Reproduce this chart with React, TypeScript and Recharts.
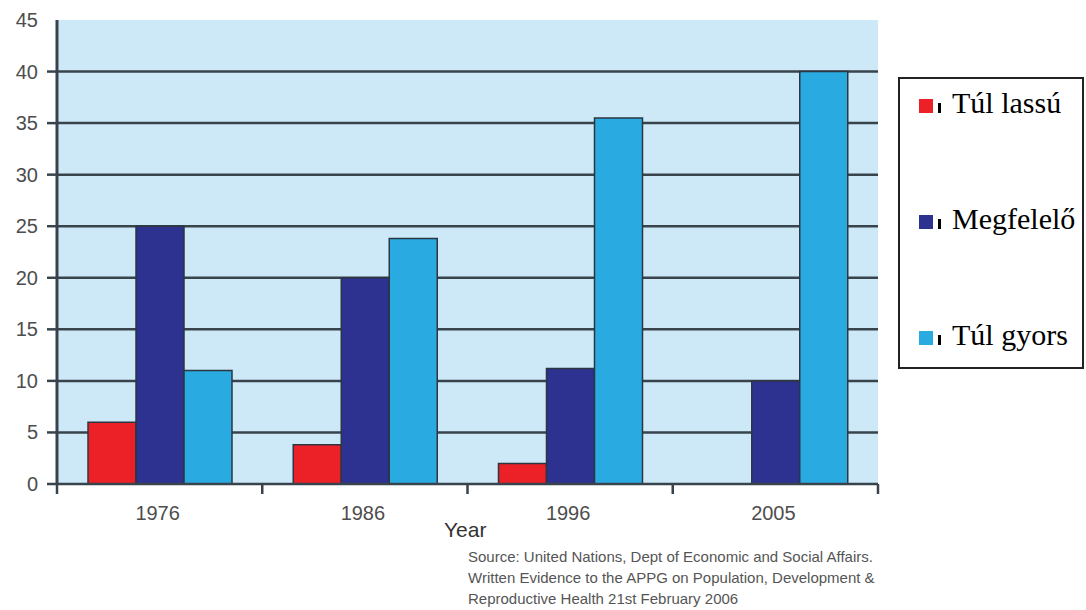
import React from 'react';
import {
  BarChart, Bar, XAxis, YAxis, CartesianGrid,
} from 'recharts';

const years = ['1976', '1986', '1996', '2005'];
const tooSlow = [6, 3.8, 2, 0];
const appropriate = [25, 20, 11.2, 10];
const tooFast = [11, 23.8, 35.5, 40];
const yTicks = [0, 5, 10, 15, 20, 25, 30, 35, 40, 45];
const gridValues = [5, 10, 15, 20, 25, 30, 35, 40];
const sourceLines = [
  'Source: United Nations, Dept of Economic and Social Affairs.',
  'Written Evidence to the APPG on Population, Development &',
  'Reproductive Health 21st February 2006',
];

const series = [
  { key: 'slow', name: 'Túl lassú', color: '#ec2027' },
  { key: 'ok', name: 'Megfelelő', color: '#2d3190' },
  { key: 'fast', name: 'Túl gyors', color: '#29abe2' },
];

const data = years.map((y, i) => ({
  year: y,
  slow: tooSlow[i],
  ok: appropriate[i],
  fast: tooFast[i],
}));

const AXIS = '#39434c';
const LABEL = '#4d4d4d';

const XTick = (props: any) => {
  const { x, y, payload, index } = props;
  const half = payload && payload.offset ? payload.offset : 102.5;
  return (
    <g>
      <line x1={x - half} x2={x - half} y1={y} y2={y + 10} stroke={AXIS} strokeWidth={2.5} />
      {index === years.length - 1 && (
        <line x1={x + half} x2={x + half} y1={y} y2={y + 10} stroke={AXIS} strokeWidth={2.5} />
      )}
      <text x={x - 2} y={y + 36} textAnchor="middle" fontSize={20} fill={LABEL}
        fontFamily="'Liberation Sans', Arial, sans-serif">
        {payload.value}
      </text>
    </g>
  );
};

const YTick = (props: any) => {
  const { x, y, payload } = props;
  return (
    <g>
      {payload.value !== 45 && (
        <line x1={x - 10} x2={x} y1={y} y2={y} stroke={AXIS} strokeWidth={2.5} />
      )}
      <text x={x - 19} y={y + 7} textAnchor="end" fontSize={20} fill={LABEL}
        fontFamily="'Liberation Sans', Arial, sans-serif">
        {payload.value}
      </text>
    </g>
  );
};

const LegendBox = () => (
  <div style={{
    position: 'absolute', left: 898, top: 77,
    width: 186, height: 292, border: '2px solid #222', boxSizing: 'border-box',
    background: '#fff',
    fontFamily: "'Liberation Serif', 'Times New Roman', serif",
  }}>
    {series.map((s, i) => (
      <div key={s.key} style={{
        position: 'absolute', left: 19, top: 4 + i * 116, height: 40,
        display: 'flex', alignItems: 'center', whiteSpace: 'nowrap',
      }}>
        <span style={{ width: 14, height: 14, background: s.color, display: 'inline-block', marginTop: 6 }} />
        <span style={{ width: 3, height: 10, background: '#000', display: 'inline-block', marginLeft: 5, marginTop: 10 }} />
        <span style={{ fontSize: 30, color: '#000', marginLeft: 11 }}>{s.name}</span>
      </div>
    ))}
  </div>
);

export default function App() {
  return (
    <div style={{ position: 'absolute', left: 0, top: 0, width: 1086, height: 610, background: '#fff' }}>
      <BarChart
        width={1086}
        height={610}
        data={data}
        margin={{ top: 20, right: 208, bottom: 96, left: 0 }}
        barCategoryGap={31}
        barGap={0}
      >
        <CartesianGrid
          fill="#cde9f8"
          vertical={false}
          horizontalValues={gridValues}
          stroke={AXIS}
          strokeWidth={2.5}
        />
        <XAxis
          dataKey="year"
          height={30}
          axisLine={{ stroke: AXIS, strokeWidth: 2.5 }}
          tickLine={false}
          tickSize={0}
          tickMargin={0}
          tick={<XTick />}
          interval={0}
        />
        <YAxis
          width={57}
          domain={[0, 45]}
          ticks={yTicks}
          interval={0}
          axisLine={{ stroke: AXIS, strokeWidth: 3 }}
          tickLine={false}
          tickSize={0}
          tickMargin={0}
          tick={<YTick />}
        />
        {series.map((s) => (
          <Bar
            key={s.key}
            dataKey={s.key}
            name={s.name}
            fill={s.color}
            stroke="#2c3640"
            strokeWidth={1.5}
            isAnimationActive={false}
          />
        ))}
      </BarChart>
      <LegendBox />
      <div style={{
        position: 'absolute', left: 444, top: 518, fontSize: 21, color: '#333',
        fontFamily: "'Liberation Sans', Arial, sans-serif",
      }}>Year</div>
      <div style={{
        position: 'absolute', left: 468, top: 546, fontSize: 15, lineHeight: '21px', color: '#555',
        fontFamily: "'Liberation Sans', Arial, sans-serif", letterSpacing: 0,
      }}>
        {sourceLines.map((l) => <div key={l}>{l}</div>)}
      </div>
    </div>
  );
}
